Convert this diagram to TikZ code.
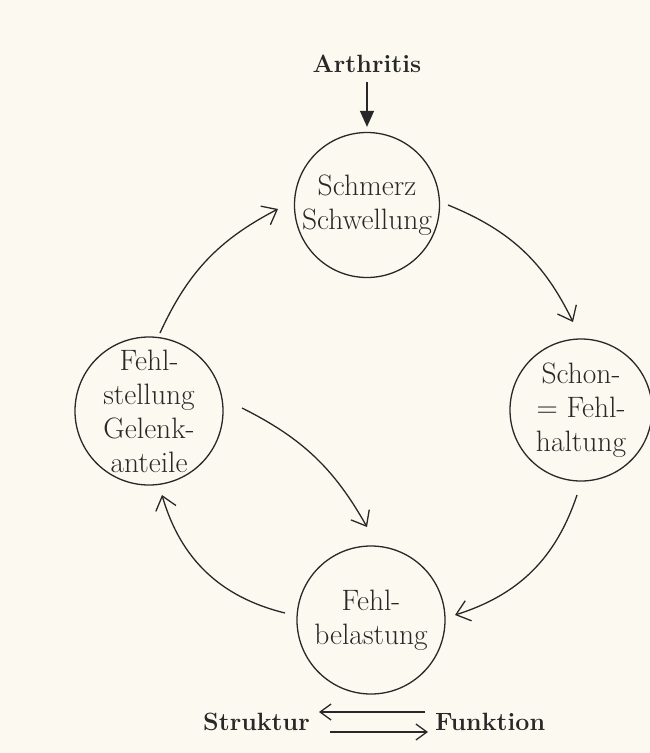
\documentclass[tikz,border=0pt]{standalone}
\usepackage{fontspec}
\setmainfont{Latin Modern Roman}
\usetikzlibrary{arrows.meta,calc}
\definecolor{bg}{RGB}{252,250,240}
\definecolor{ink}{RGB}{40,40,40}
\begin{document}
\begin{tikzpicture}[x=1pt,y=-1pt,
  bub/.style={circle,draw=ink,line width=1.3pt,inner sep=-14pt,align=center,
    font=\fontsize{29.5}{34}\selectfont,text=ink},
  lbl/.style={inner sep=0pt,font=\bfseries\fontsize{25}{28}\selectfont,text=ink},
  arr/.style={draw=ink,line width=1.3pt,-{Straight Barb[length=13pt,width=21pt,line width=1.3pt]}},
  barbtwo/.style={draw=ink,line width=1.3pt,-{Straight Barb[length=11pt,width=16pt,line width=1.3pt]}},
  tri/.style={draw=ink,line width=1.4pt,-{Triangle[length=16pt,width=14pt]}}]
\fill[bg] (0,0) rectangle (650,753);
\useasboundingbox (0,0) rectangle (650,753);

\node[bub,minimum size=145pt] (T) at (367,205) {Schmerz\\Schwellung};
\node[bub,minimum size=142pt] (R) at (581,410) {Schon-\\= Fehl-\\haltung};
\node[bub,minimum size=148pt] (B) at (371,620) {Fehl-\\belastung};
\node[bub,minimum size=148pt] (L) at (149,411) {Fehl-\\stellung\\Gelenk-\\anteile};

\node[lbl,anchor=base] (A) at (367,72) {Arthritis};
\node[lbl,anchor=base east] (S) at (310,730) {Struktur};
\node[lbl,anchor=base west] (F) at (435,730) {Funktion};

\draw[tri,shorten <=10pt,shorten >=5pt] (A.south) -- (T.north);

\draw[arr] ($(T)+(81,0)$) to[bend left=21] ($(R)+(-8,-88)$);
\draw[arr] ($(R)+(-4,85)$) to[bend left=27] ($(B)+(84,-5)$);
\draw[arr] ($(B)+(-86,-7)$) to[bend left=30] ($(L)+(13,84)$);
\draw[arr] ($(L)+(11,-78)$) to[bend left=19] ($(T)+(-89,4)$);
\draw[arr] ($(L)+(93,-3)$) to[bend left=17] ($(B)+(-4,-93)$);

\draw[barbtwo] ($(F.base west)+(-10,-18)$) -- ($(S.base east)+(9,-18)$);
\draw[barbtwo] ($(S.base east)+(20,2)$) -- ($(F.base west)+(-7,2)$);
\end{tikzpicture}
\end{document}
